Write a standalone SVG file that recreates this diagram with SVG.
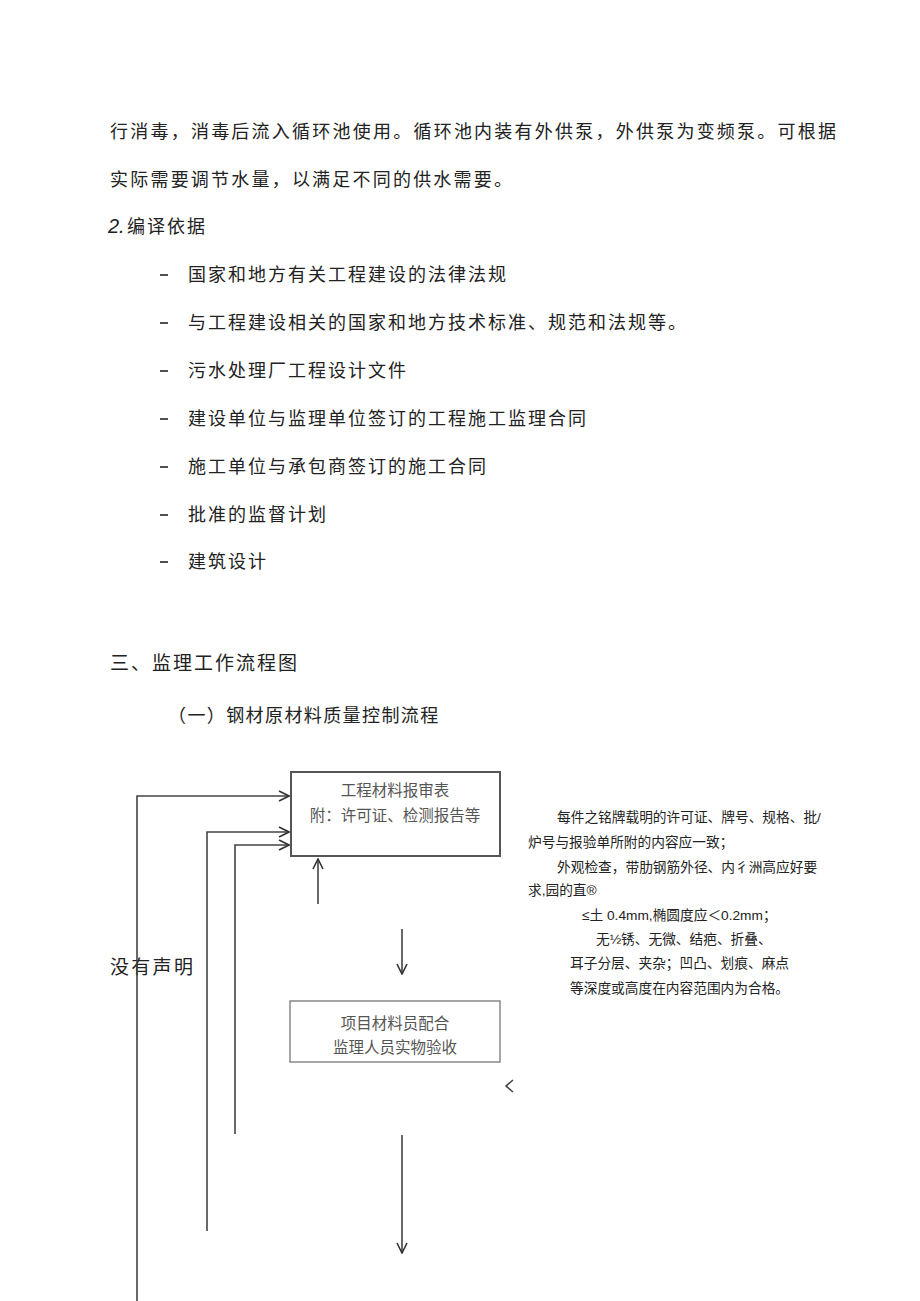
<svg xmlns="http://www.w3.org/2000/svg" width="920" height="1301" viewBox="0 0 920 1301">
<style>
.body{font-family:"Noto Sans CJK SC","Liberation Sans",sans-serif;font-size:18px;fill:#222;letter-spacing:2px}
.li{font-family:"Noto Sans CJK SC","Liberation Sans",sans-serif;font-size:18px;fill:#222;letter-spacing:2px}
.dash{stroke:#222;stroke-width:1.6}
.box{font-family:"Noto Sans CJK SC",sans-serif;font-size:15.5px;fill:#555}
.note{font-family:"Liberation Sans","Noto Sans CJK SC",sans-serif;font-size:13.7px;fill:#222}
.ln{stroke:#444;stroke-width:1.6;fill:none}
</style>
<defs>
<marker id="ah" viewBox="0 0 12 12" refX="11" refY="6" markerWidth="12" markerHeight="12" markerUnits="userSpaceOnUse" orient="auto">
<path d="M1,1 L11,6 L1,11" fill="none" stroke="#333" stroke-width="1.6"/>
</marker>
</defs>
<rect width="920" height="1301" fill="#fff"/>
<g id="intro">
<text class="body" x="110" y="138" textLength="728" lengthAdjust="spacing">行消毒，消毒后流入循环池使用。循环池内装有外供泵，外供泵为变频泵。可根据</text>
<text class="body" x="110" y="186" textLength="404" lengthAdjust="spacing">实际需要调节水量，以满足不同的供水需要。</text>
<text x="108" y="233" style="font-family:'Liberation Sans',sans-serif;font-size:20px;font-style:italic;fill:#222">2.</text>
<text class="body" x="127" y="233">编译依据</text>
</g>
<g id="list">
<line class="dash" x1="160" y1="275" x2="168" y2="275"/><text class="li" x="188" y="281">国家和地方有关工程建设的法律法规</text>
<line class="dash" x1="160" y1="323" x2="168" y2="323"/><text class="li" x="188" y="329">与工程建设相关的国家和地方技术标准、规范和法规等。</text>
<line class="dash" x1="160" y1="371" x2="168" y2="371"/><text class="li" x="188" y="377">污水处理厂工程设计文件</text>
<line class="dash" x1="160" y1="419" x2="168" y2="419"/><text class="li" x="188" y="425">建设单位与监理单位签订的工程施工监理合同</text>
<line class="dash" x1="160" y1="467" x2="168" y2="467"/><text class="li" x="188" y="473">施工单位与承包商签订的施工合同</text>
<line class="dash" x1="160" y1="515" x2="168" y2="515"/><text class="li" x="188" y="521">批准的监督计划</text>
<line class="dash" x1="160" y1="562" x2="168" y2="562"/><text class="li" x="188" y="568">建筑设计</text>
</g>
<g id="headings">
<text class="body" x="110" y="670" style="font-size:19px">三、监理工作流程图</text>
<text class="body" x="168" y="722" style="font-size:18px;letter-spacing:1.4px">（一）钢材原材料质量控制流程</text>
</g>
<g id="node-submit">
<rect x="291" y="772" width="209" height="84" fill="none" stroke="#555" stroke-width="2"/>
<text class="box" x="395" y="796" text-anchor="middle">工程材料报审表</text>
<text class="box" x="395" y="821" text-anchor="middle">附：许可证、检测报告等</text>
</g>
<g id="node-inspect">
<rect x="290" y="1001" width="210" height="61" fill="none" stroke="#888" stroke-width="1.5"/>
<text class="box" x="395" y="1029" text-anchor="middle">项目材料员配合</text>
<text class="box" x="395" y="1053" text-anchor="middle">监理人员实物验收</text>
</g>
<g id="label-nodecl">
<text class="body" x="110" y="974" style="font-size:19px;letter-spacing:2.3px">没有声明</text>
</g>
<g id="note">
<text class="note" x="557" y="822">每件之铭牌载明的许可证、牌号、规格、批/</text>
<text class="note" x="528" y="847">炉号与报验单所附的内容应一致；</text>
<text class="note" x="557" y="872">外观检查，带肋钢筋外径、内彳洲高应好要</text>
<text class="note" x="528" y="895">求,园的直®</text>
<text class="note" x="582" y="920">≤土 0.4mm,椭圆度应＜0.2mm；</text>
<text class="note" x="596" y="944">无½锈、无微、结疤、折叠、</text>
<text class="note" x="570" y="968">耳子分层、夹杂；凹凸、划痕、麻点</text>
<text class="note" x="570" y="993">等深度或高度在内容范围内为合格。</text>
</g>
<g id="connectors">
<path class="ln" d="M137,1301 V796 H289" marker-end="url(#ah)"/>
<path class="ln" d="M207,1231 V832 H289" marker-end="url(#ah)"/>
<path class="ln" d="M235,1134 V845 H289" marker-end="url(#ah)"/>
<path class="ln" d="M318,904 V859" marker-end="url(#ah)"/>
<path class="ln" d="M402,929 V974" marker-end="url(#ah)"/>
<path class="ln" d="M402,1135 V1253" marker-end="url(#ah)"/>
<path class="ln" d="M513,1080 L506,1086 L513,1092" stroke="#333"/>
</g>
</svg>
